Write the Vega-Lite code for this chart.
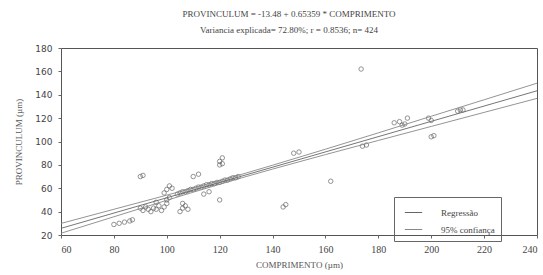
{
  "$schema": "https://vega.github.io/schema/vega-lite/v6.json",
  "width": 476,
  "height": 187,
  "autosize": "none",
  "padding": {"left": 61, "top": 48, "right": 6, "bottom": 40},
  "background": "white",
  "config": {
    "view": {"stroke": "#555", "strokeWidth": 1},
    "axis": {"grid": false, "domain": false, "tickColor": "#666", "tickSize": 3, "labelColor": "#444", "titleColor": "#555", "titleFontWeight": "normal", "titleFont": "Liberation Serif", "titleFontSize": 9, "labelOverlap": false, "labelBound": false}
  },
  "title": {
    "text": ["PROVINCULUM = -13.48 + 0.65359 * COMPRIMENTO", "Variancia explicada= 72.80%; r = 0.8536; n= 424"],
    "font": "Liberation Serif",
    "fontSize": 9,
    "fontWeight": "normal",
    "color": "#444",
    "lineHeight": 16,
    "anchor": "middle",
    "frame": "group",
    "dx": -10,
    "offset": 9
  },
  "encoding": {
    "x": {"field": "x", "type": "quantitative", "scale": {"domain": [60, 240], "nice": false, "zero": false},
      "axis": {"values": [60, 80, 100, 120, 140, 160, 180, 200, 220, 240], "labelOverlap": false, "title": "COMPRIMENTO (µm)", "labelFont": "Liberation Serif", "labelFontSize": 10, "labelPadding": 6, "titlePadding": 6}},
    "y": {"field": "y", "type": "quantitative", "scale": {"domain": [20, 180], "nice": false, "zero": false},
      "axis": {"values": [20, 40, 60, 80, 100, 120, 140, 160, 180], "tickCount": 9, "labelOverlap": false, "title": "PROVINCULUM (µm)", "labelFont": "DejaVu Sans", "labelFontSize": 9, "labelPadding": 6, "titlePadding": 11}}
  },
  "layer": [
    {
      "data": {"values": [
        {"x": 80, "y": 29}, {"x": 82, "y": 30}, {"x": 84, "y": 31}, {"x": 86, "y": 32}, {"x": 87, "y": 33},
        {"x": 90, "y": 70}, {"x": 91, "y": 71},
        {"x": 90, "y": 43}, {"x": 91, "y": 41}, {"x": 92, "y": 44}, {"x": 93, "y": 42},
        {"x": 94, "y": 40}, {"x": 95, "y": 43}, {"x": 96, "y": 42}, {"x": 97, "y": 45}, {"x": 96, "y": 48}, {"x": 98, "y": 41}, {"x": 99, "y": 44}, {"x": 100, "y": 47}, {"x": 100, "y": 50}, {"x": 101, "y": 52}, {"x": 99, "y": 56}, {"x": 100, "y": 59}, {"x": 101, "y": 62}, {"x": 102, "y": 60},
        {"x": 105, "y": 40}, {"x": 106, "y": 43}, {"x": 107, "y": 45}, {"x": 106, "y": 47}, {"x": 108, "y": 42},
        {"x": 110, "y": 70}, {"x": 112, "y": 72},
        {"x": 114, "y": 55}, {"x": 116, "y": 57},
        {"x": 120, "y": 50},
        {"x": 120, "y": 80}, {"x": 120, "y": 83}, {"x": 121, "y": 86}, {"x": 121, "y": 81},
        {"x": 104, "y": 55}, {"x": 105, "y": 56}, {"x": 106, "y": 57}, {"x": 107, "y": 57}, {"x": 108, "y": 58}, {"x": 109, "y": 59}, {"x": 110, "y": 59}, {"x": 111, "y": 60}, {"x": 112, "y": 61}, {"x": 113, "y": 61}, {"x": 114, "y": 62}, {"x": 115, "y": 63}, {"x": 116, "y": 63}, {"x": 117, "y": 64}, {"x": 118, "y": 64}, {"x": 119, "y": 65}, {"x": 120, "y": 65}, {"x": 121, "y": 66}, {"x": 122, "y": 67}, {"x": 123, "y": 67}, {"x": 124, "y": 68}, {"x": 125, "y": 69}, {"x": 126, "y": 69}, {"x": 127, "y": 70},
        {"x": 144, "y": 44}, {"x": 145, "y": 46},
        {"x": 148, "y": 90}, {"x": 150, "y": 91},
        {"x": 162, "y": 66},
        {"x": 173.5, "y": 162},
        {"x": 174, "y": 96}, {"x": 175.5, "y": 97},
        {"x": 186, "y": 116}, {"x": 188, "y": 117}, {"x": 189, "y": 114}, {"x": 190, "y": 115}, {"x": 191, "y": 120},
        {"x": 199, "y": 120}, {"x": 200, "y": 118},
        {"x": 200, "y": 104}, {"x": 201, "y": 105},
        {"x": 210, "y": 126}, {"x": 211, "y": 127}, {"x": 212, "y": 127}
      ]},
      "mark": {"type": "point", "shape": "circle", "filled": false, "size": 20, "stroke": "#555", "strokeWidth": 0.9, "clip": true}
    },
    {
      "data": {"values": [
        {"x": 60, "y": 25.7, "serie": "Regressão", "curve": "reg"},
        {"x": 240, "y": 143.4, "serie": "Regressão", "curve": "reg"},
        {"x": 60, "y": 29.9, "serie": "95% confiança", "curve": "up"},
        {"x": 80, "y": 42.0, "serie": "95% confiança", "curve": "up"},
        {"x": 100, "y": 54.1, "serie": "95% confiança", "curve": "up"},
        {"x": 120, "y": 66.5, "serie": "95% confiança", "curve": "up"},
        {"x": 140, "y": 79.7, "serie": "95% confiança", "curve": "up"},
        {"x": 160, "y": 93.4, "serie": "95% confiança", "curve": "up"},
        {"x": 180, "y": 107.4, "serie": "95% confiança", "curve": "up"},
        {"x": 200, "y": 121.6, "serie": "95% confiança", "curve": "up"},
        {"x": 220, "y": 135.7, "serie": "95% confiança", "curve": "up"},
        {"x": 240, "y": 149.9, "serie": "95% confiança", "curve": "up"},
        {"x": 60, "y": 21.5, "serie": "95% confiança", "curve": "lo"},
        {"x": 80, "y": 35.6, "serie": "95% confiança", "curve": "lo"},
        {"x": 100, "y": 49.7, "serie": "95% confiança", "curve": "lo"},
        {"x": 120, "y": 63.4, "serie": "95% confiança", "curve": "lo"},
        {"x": 140, "y": 76.4, "serie": "95% confiança", "curve": "lo"},
        {"x": 160, "y": 88.8, "serie": "95% confiança", "curve": "lo"},
        {"x": 180, "y": 100.9, "serie": "95% confiança", "curve": "lo"},
        {"x": 200, "y": 112.9, "serie": "95% confiança", "curve": "lo"},
        {"x": 220, "y": 124.9, "serie": "95% confiança", "curve": "lo"},
        {"x": 240, "y": 136.9, "serie": "95% confiança", "curve": "lo"}
      ]},
      "mark": {"type": "line", "strokeWidth": 0.9, "interpolate": "monotone", "clip": true},
      "encoding": {
        "detail": {"field": "curve"},
        "color": {"field": "serie", "type": "nominal",
          "scale": {"domain": ["Regressão", "95% confiança"], "range": ["#666", "#888"]},
          "legend": {"title": null, "orient": "none", "legendX": 333, "legendY": 149, "symbolType": "stroke", "symbolSize": 300, "symbolStrokeWidth": 1, "strokeColor": "#666", "padding": 6, "labelFont": "Liberation Serif", "labelFontSize": 9, "labelColor": "#444", "rowPadding": 2, "symbolOffset": 4, "labelOffset": 18}}
      }
    }
  ]
}
